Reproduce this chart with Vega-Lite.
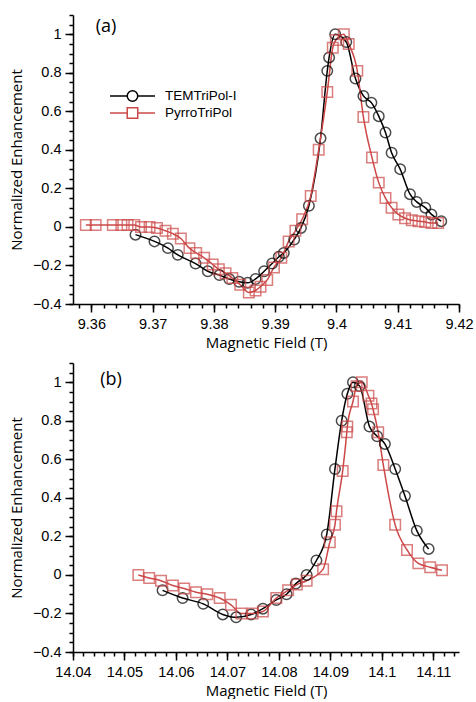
{
  "$schema": "https://vega.github.io/schema/vega-lite/v6.json",
  "padding": {"left": 9, "top": 14, "right": 0, "bottom": 0},
  "background": "white",
  "spacing": 59,
  "bounds": "flush",
  "config": {
    "view": {"stroke": null},
    "axis": {
      "domainColor": "black", "domainWidth": 1.5, "tickColor": "black", "tickWidth": 1.5,
      "grid": false, "labelFont": "Liberation Sans", "labelFontSize": 14.5, "labelColor": "black",
      "labelOverlap": false, "labelFlush": false,
      "titleFont": "Open Sans", "titleFontSize": 15, "titleFontWeight": "normal", "titleColor": "black"
    }
  },
  "datasets": {
    "pts": [
      {"panel": "a", "series": "TEMTriPol-I", "field": 9.3672, "enh": -0.04},
      {"panel": "a", "series": "TEMTriPol-I", "field": 9.3703, "enh": -0.075},
      {"panel": "a", "series": "TEMTriPol-I", "field": 9.3725, "enh": -0.11},
      {"panel": "a", "series": "TEMTriPol-I", "field": 9.3741, "enh": -0.145},
      {"panel": "a", "series": "TEMTriPol-I", "field": 9.377, "enh": -0.19},
      {"panel": "a", "series": "TEMTriPol-I", "field": 9.379, "enh": -0.23},
      {"panel": "a", "series": "TEMTriPol-I", "field": 9.3809, "enh": -0.25},
      {"panel": "a", "series": "TEMTriPol-I", "field": 9.3825, "enh": -0.27},
      {"panel": "a", "series": "TEMTriPol-I", "field": 9.3841, "enh": -0.285},
      {"panel": "a", "series": "TEMTriPol-I", "field": 9.3855, "enh": -0.29},
      {"panel": "a", "series": "TEMTriPol-I", "field": 9.3868, "enh": -0.27},
      {"panel": "a", "series": "TEMTriPol-I", "field": 9.3882, "enh": -0.23},
      {"panel": "a", "series": "TEMTriPol-I", "field": 9.3895, "enh": -0.19},
      {"panel": "a", "series": "TEMTriPol-I", "field": 9.3906, "enh": -0.155},
      {"panel": "a", "series": "TEMTriPol-I", "field": 9.3914, "enh": -0.135},
      {"panel": "a", "series": "TEMTriPol-I", "field": 9.3931, "enh": -0.065},
      {"panel": "a", "series": "TEMTriPol-I", "field": 9.3942, "enh": -0.005},
      {"panel": "a", "series": "TEMTriPol-I", "field": 9.3955, "enh": 0.11},
      {"panel": "a", "series": "TEMTriPol-I", "field": 9.3974, "enh": 0.46},
      {"panel": "a", "series": "TEMTriPol-I", "field": 9.3985, "enh": 0.81},
      {"panel": "a", "series": "TEMTriPol-I", "field": 9.3988, "enh": 0.88},
      {"panel": "a", "series": "TEMTriPol-I", "field": 9.3998, "enh": 1.0},
      {"panel": "a", "series": "TEMTriPol-I", "field": 9.4016, "enh": 0.96},
      {"panel": "a", "series": "TEMTriPol-I", "field": 9.4031, "enh": 0.77},
      {"panel": "a", "series": "TEMTriPol-I", "field": 9.4044, "enh": 0.68},
      {"panel": "a", "series": "TEMTriPol-I", "field": 9.4057, "enh": 0.645},
      {"panel": "a", "series": "TEMTriPol-I", "field": 9.4069, "enh": 0.575},
      {"panel": "a", "series": "TEMTriPol-I", "field": 9.408, "enh": 0.49},
      {"panel": "a", "series": "TEMTriPol-I", "field": 9.409, "enh": 0.385},
      {"panel": "a", "series": "TEMTriPol-I", "field": 9.4104, "enh": 0.3},
      {"panel": "a", "series": "TEMTriPol-I", "field": 9.412, "enh": 0.17},
      {"panel": "a", "series": "TEMTriPol-I", "field": 9.4131, "enh": 0.13},
      {"panel": "a", "series": "TEMTriPol-I", "field": 9.4145, "enh": 0.1},
      {"panel": "a", "series": "TEMTriPol-I", "field": 9.4155, "enh": 0.065},
      {"panel": "a", "series": "TEMTriPol-I", "field": 9.4171, "enh": 0.03},
      {"panel": "a", "series": "PyrroTriPol", "field": 9.3591, "enh": 0.01},
      {"panel": "a", "series": "PyrroTriPol", "field": 9.3607, "enh": 0.01},
      {"panel": "a", "series": "PyrroTriPol", "field": 9.3635, "enh": 0.01},
      {"panel": "a", "series": "PyrroTriPol", "field": 9.3649, "enh": 0.01},
      {"panel": "a", "series": "PyrroTriPol", "field": 9.3659, "enh": 0.01},
      {"panel": "a", "series": "PyrroTriPol", "field": 9.367, "enh": 0.01},
      {"panel": "a", "series": "PyrroTriPol", "field": 9.3681, "enh": 0.0},
      {"panel": "a", "series": "PyrroTriPol", "field": 9.3695, "enh": 0.0},
      {"panel": "a", "series": "PyrroTriPol", "field": 9.3707, "enh": -0.005},
      {"panel": "a", "series": "PyrroTriPol", "field": 9.3721, "enh": -0.02},
      {"panel": "a", "series": "PyrroTriPol", "field": 9.3733, "enh": -0.035},
      {"panel": "a", "series": "PyrroTriPol", "field": 9.3746, "enh": -0.06},
      {"panel": "a", "series": "PyrroTriPol", "field": 9.376, "enh": -0.11},
      {"panel": "a", "series": "PyrroTriPol", "field": 9.3771, "enh": -0.135},
      {"panel": "a", "series": "PyrroTriPol", "field": 9.3784, "enh": -0.16},
      {"panel": "a", "series": "PyrroTriPol", "field": 9.3798, "enh": -0.195},
      {"panel": "a", "series": "PyrroTriPol", "field": 9.3808, "enh": -0.22},
      {"panel": "a", "series": "PyrroTriPol", "field": 9.3819, "enh": -0.24},
      {"panel": "a", "series": "PyrroTriPol", "field": 9.383, "enh": -0.265},
      {"panel": "a", "series": "PyrroTriPol", "field": 9.3843, "enh": -0.3},
      {"panel": "a", "series": "PyrroTriPol", "field": 9.3857, "enh": -0.34},
      {"panel": "a", "series": "PyrroTriPol", "field": 9.3868, "enh": -0.33},
      {"panel": "a", "series": "PyrroTriPol", "field": 9.3876, "enh": -0.31},
      {"panel": "a", "series": "PyrroTriPol", "field": 9.3887, "enh": -0.275},
      {"panel": "a", "series": "PyrroTriPol", "field": 9.3898, "enh": -0.21},
      {"panel": "a", "series": "PyrroTriPol", "field": 9.391, "enh": -0.16},
      {"panel": "a", "series": "PyrroTriPol", "field": 9.3922, "enh": -0.075},
      {"panel": "a", "series": "PyrroTriPol", "field": 9.3933, "enh": -0.02},
      {"panel": "a", "series": "PyrroTriPol", "field": 9.3944, "enh": 0.04},
      {"panel": "a", "series": "PyrroTriPol", "field": 9.3958, "enh": 0.16},
      {"panel": "a", "series": "PyrroTriPol", "field": 9.3971, "enh": 0.4},
      {"panel": "a", "series": "PyrroTriPol", "field": 9.3985, "enh": 0.7},
      {"panel": "a", "series": "PyrroTriPol", "field": 9.3994, "enh": 0.93},
      {"panel": "a", "series": "PyrroTriPol", "field": 9.3999, "enh": 0.97},
      {"panel": "a", "series": "PyrroTriPol", "field": 9.4012, "enh": 1.0},
      {"panel": "a", "series": "PyrroTriPol", "field": 9.402, "enh": 0.95},
      {"panel": "a", "series": "PyrroTriPol", "field": 9.4034, "enh": 0.81},
      {"panel": "a", "series": "PyrroTriPol", "field": 9.4044, "enh": 0.57},
      {"panel": "a", "series": "PyrroTriPol", "field": 9.4058, "enh": 0.36},
      {"panel": "a", "series": "PyrroTriPol", "field": 9.4069, "enh": 0.23},
      {"panel": "a", "series": "PyrroTriPol", "field": 9.408, "enh": 0.15},
      {"panel": "a", "series": "PyrroTriPol", "field": 9.409, "enh": 0.1},
      {"panel": "a", "series": "PyrroTriPol", "field": 9.4101, "enh": 0.065},
      {"panel": "a", "series": "PyrroTriPol", "field": 9.4112, "enh": 0.045},
      {"panel": "a", "series": "PyrroTriPol", "field": 9.4123, "enh": 0.035},
      {"panel": "a", "series": "PyrroTriPol", "field": 9.4134, "enh": 0.03},
      {"panel": "a", "series": "PyrroTriPol", "field": 9.4145, "enh": 0.025},
      {"panel": "a", "series": "PyrroTriPol", "field": 9.4155, "enh": 0.02},
      {"panel": "a", "series": "PyrroTriPol", "field": 9.4166, "enh": 0.02},
      {"panel": "b", "series": "TEMTriPol-I", "field": 14.0574, "enh": -0.08},
      {"panel": "b", "series": "TEMTriPol-I", "field": 14.0613, "enh": -0.12},
      {"panel": "b", "series": "TEMTriPol-I", "field": 14.0653, "enh": -0.15},
      {"panel": "b", "series": "TEMTriPol-I", "field": 14.0691, "enh": -0.205},
      {"panel": "b", "series": "TEMTriPol-I", "field": 14.0717, "enh": -0.22},
      {"panel": "b", "series": "TEMTriPol-I", "field": 14.0746, "enh": -0.205},
      {"panel": "b", "series": "TEMTriPol-I", "field": 14.0769, "enh": -0.175},
      {"panel": "b", "series": "TEMTriPol-I", "field": 14.0795, "enh": -0.13},
      {"panel": "b", "series": "TEMTriPol-I", "field": 14.0815, "enh": -0.1},
      {"panel": "b", "series": "TEMTriPol-I", "field": 14.0833, "enh": -0.045},
      {"panel": "b", "series": "TEMTriPol-I", "field": 14.0854, "enh": 0.0},
      {"panel": "b", "series": "TEMTriPol-I", "field": 14.0873, "enh": 0.075},
      {"panel": "b", "series": "TEMTriPol-I", "field": 14.0893, "enh": 0.21},
      {"panel": "b", "series": "TEMTriPol-I", "field": 14.0909, "enh": 0.55},
      {"panel": "b", "series": "TEMTriPol-I", "field": 14.0922, "enh": 0.8},
      {"panel": "b", "series": "TEMTriPol-I", "field": 14.0933, "enh": 0.94},
      {"panel": "b", "series": "TEMTriPol-I", "field": 14.0944, "enh": 1.0},
      {"panel": "b", "series": "TEMTriPol-I", "field": 14.0957, "enh": 0.98},
      {"panel": "b", "series": "TEMTriPol-I", "field": 14.0976, "enh": 0.77},
      {"panel": "b", "series": "TEMTriPol-I", "field": 14.0991, "enh": 0.72},
      {"panel": "b", "series": "TEMTriPol-I", "field": 14.1006, "enh": 0.68},
      {"panel": "b", "series": "TEMTriPol-I", "field": 14.1026, "enh": 0.55},
      {"panel": "b", "series": "TEMTriPol-I", "field": 14.1045, "enh": 0.41},
      {"panel": "b", "series": "TEMTriPol-I", "field": 14.1068, "enh": 0.23},
      {"panel": "b", "series": "TEMTriPol-I", "field": 14.1091, "enh": 0.135},
      {"panel": "b", "series": "PyrroTriPol", "field": 14.0527, "enh": 0.0},
      {"panel": "b", "series": "PyrroTriPol", "field": 14.0548, "enh": -0.016},
      {"panel": "b", "series": "PyrroTriPol", "field": 14.0571, "enh": -0.03},
      {"panel": "b", "series": "PyrroTriPol", "field": 14.0594, "enh": -0.055},
      {"panel": "b", "series": "PyrroTriPol", "field": 14.0616, "enh": -0.07},
      {"panel": "b", "series": "PyrroTriPol", "field": 14.0639, "enh": -0.09},
      {"panel": "b", "series": "PyrroTriPol", "field": 14.0661, "enh": -0.1},
      {"panel": "b", "series": "PyrroTriPol", "field": 14.0685, "enh": -0.12},
      {"panel": "b", "series": "PyrroTriPol", "field": 14.0707, "enh": -0.155},
      {"panel": "b", "series": "PyrroTriPol", "field": 14.0727, "enh": -0.2},
      {"panel": "b", "series": "PyrroTriPol", "field": 14.0749, "enh": -0.2},
      {"panel": "b", "series": "PyrroTriPol", "field": 14.0769, "enh": -0.19},
      {"panel": "b", "series": "PyrroTriPol", "field": 14.0795, "enh": -0.12},
      {"panel": "b", "series": "PyrroTriPol", "field": 14.0818, "enh": -0.08},
      {"panel": "b", "series": "PyrroTriPol", "field": 14.0835, "enh": -0.05},
      {"panel": "b", "series": "PyrroTriPol", "field": 14.0854, "enh": -0.03},
      {"panel": "b", "series": "PyrroTriPol", "field": 14.0886, "enh": 0.03},
      {"panel": "b", "series": "PyrroTriPol", "field": 14.0899, "enh": 0.17},
      {"panel": "b", "series": "PyrroTriPol", "field": 14.0909, "enh": 0.26},
      {"panel": "b", "series": "PyrroTriPol", "field": 14.0912, "enh": 0.33},
      {"panel": "b", "series": "PyrroTriPol", "field": 14.0924, "enh": 0.54},
      {"panel": "b", "series": "PyrroTriPol", "field": 14.0932, "enh": 0.74},
      {"panel": "b", "series": "PyrroTriPol", "field": 14.0933, "enh": 0.77},
      {"panel": "b", "series": "PyrroTriPol", "field": 14.0944, "enh": 0.9},
      {"panel": "b", "series": "PyrroTriPol", "field": 14.0951, "enh": 0.98},
      {"panel": "b", "series": "PyrroTriPol", "field": 14.0961, "enh": 1.0},
      {"panel": "b", "series": "PyrroTriPol", "field": 14.0974, "enh": 0.93},
      {"panel": "b", "series": "PyrroTriPol", "field": 14.098, "enh": 0.89},
      {"panel": "b", "series": "PyrroTriPol", "field": 14.0983, "enh": 0.86},
      {"panel": "b", "series": "PyrroTriPol", "field": 14.0993, "enh": 0.74},
      {"panel": "b", "series": "PyrroTriPol", "field": 14.1003, "enh": 0.57},
      {"panel": "b", "series": "PyrroTriPol", "field": 14.1026, "enh": 0.26},
      {"panel": "b", "series": "PyrroTriPol", "field": 14.1049, "enh": 0.13},
      {"panel": "b", "series": "PyrroTriPol", "field": 14.1071, "enh": 0.06},
      {"panel": "b", "series": "PyrroTriPol", "field": 14.1094, "enh": 0.04},
      {"panel": "b", "series": "PyrroTriPol", "field": 14.1117, "enh": 0.024}
    ]
  },
  "vconcat": [
    {
      "width": 386, "height": 289,
      "layer": [
        {
          "data": {"name": "pts"},
          "transform": [{"filter": "datum.panel === 'a'"}],
          "mark": {"type": "line", "interpolate": "monotone", "strokeWidth": 1.5},
          "encoding": {
            "x": {"field": "field", "type": "quantitative", "scale": {"domain": [9.357, 9.42], "nice": false, "zero": false},
                  "axis": {"title": "Magnetic Field (T)", "orient": "bottom", "values": [9.36, 9.37, 9.38, 9.39, 9.4, 9.41, 9.42], "format": "~g", "tickSize": 8, "labelPadding": 5, "titlePadding": 5}},
            "y": {"field": "enh", "type": "quantitative", "scale": {"domain": [-0.4, 1.1], "nice": false},
                  "axis": {"title": "Normalized Enhancement", "orient": "left", "values": [-0.4, -0.2, 0, 0.2, 0.4, 0.6, 0.8, 1], "format": "~g", "tickSize": 8, "labelPadding": 4, "titlePadding": 8}},
            "color": {"field": "series", "type": "nominal", "legend": null,
                      "scale": {"domain": ["TEMTriPol-I", "PyrroTriPol"], "range": ["#000000", "#CC4848"]}}
          }
        },
        {
          "data": {"name": "pts"},
          "transform": [{"filter": "datum.panel === 'a'"}],
          "mark": {"type": "point", "filled": false, "size": 110, "strokeWidth": 1.5},
          "encoding": {
            "x": {"field": "field", "type": "quantitative",
                  "axis": {"title": null, "orient": "bottom", "labels": false, "domain": false, "tickSize": 4,
                           "values": [9.358, 9.36, 9.362, 9.364, 9.366, 9.368, 9.37, 9.372, 9.374, 9.376, 9.378, 9.38, 9.382, 9.384, 9.386, 9.388, 9.39, 9.392, 9.394, 9.396, 9.398, 9.4, 9.402, 9.404, 9.406, 9.408, 9.41, 9.412, 9.414, 9.416, 9.418, 9.42]}},
            "y": {"field": "enh", "type": "quantitative",
                  "axis": {"title": null, "orient": "left", "labels": false, "domain": false, "tickSize": 4,
                           "values": [-0.4, -0.35, -0.3, -0.25, -0.2, -0.15, -0.1, -0.05, 0, 0.05, 0.1, 0.15, 0.2, 0.25, 0.3, 0.35, 0.4, 0.45, 0.5, 0.55, 0.6, 0.65, 0.7, 0.75, 0.8, 0.85, 0.9, 0.95, 1, 1.05, 1.1]}},
            "stroke": {"field": "series", "type": "nominal", "legend": null,
                       "scale": {"domain": ["TEMTriPol-I", "PyrroTriPol"], "range": ["#000000", "#CC4848"]}},
            "shape": {"field": "series", "type": "nominal", "legend": null,
                      "scale": {"domain": ["TEMTriPol-I", "PyrroTriPol"], "range": ["circle", "square"]}}
          }
        },
        {
          "data": {"values": [{"label": "(a)"}]},
          "mark": {"type": "text", "align": "left", "baseline": "middle", "font": "Open Sans", "fontSize": 18, "color": "black"},
          "encoding": {
            "x": {"datum": 9.3607, "type": "quantitative", "axis": null},
            "y": {"datum": 1.038, "type": "quantitative", "axis": null},
            "text": {"field": "label"}
          }
        },
        {
          "data": {"values": [{"label": "TEMTriPol-I"}]},
          "mark": {"type": "rule", "color": "#000000", "strokeWidth": 1.5},
          "encoding": {
            "x": {"datum": 9.36304, "type": "quantitative", "axis": null},
            "x2": {"datum": 9.37038},
            "y": {"datum": 0.6796, "type": "quantitative", "axis": null}
          }
        },
        {
          "data": {"values": [{"label": "TEMTriPol-I"}]},
          "mark": {"type": "point", "shape": "circle", "filled": false, "size": 110, "strokeWidth": 1.5, "color": "#000000", "fill": "white", "fillOpacity": 1},
          "encoding": {
            "x": {"datum": 9.36671, "type": "quantitative", "axis": null},
            "y": {"datum": 0.6796, "type": "quantitative", "axis": null}
          }
        },
        {
          "data": {"values": [{"label": "TEMTriPol-I"}]},
          "mark": {"type": "text", "align": "left", "baseline": "middle", "font": "Liberation Sans", "fontSize": 13.5, "color": "black"},
          "encoding": {
            "x": {"datum": 9.37202, "type": "quantitative", "axis": null},
            "y": {"datum": 0.6796, "type": "quantitative", "axis": null},
            "text": {"field": "label"}
          }
        },
        {
          "data": {"values": [{"label": "PyrroTriPol"}]},
          "mark": {"type": "rule", "color": "#CC4848", "strokeWidth": 1.5},
          "encoding": {
            "x": {"datum": 9.36304, "type": "quantitative", "axis": null},
            "x2": {"datum": 9.37038},
            "y": {"datum": 0.5913, "type": "quantitative", "axis": null}
          }
        },
        {
          "data": {"values": [{"label": "PyrroTriPol"}]},
          "mark": {"type": "point", "shape": "square", "filled": false, "size": 110, "strokeWidth": 1.5, "color": "#CC4848", "fill": "white", "fillOpacity": 1},
          "encoding": {
            "x": {"datum": 9.36671, "type": "quantitative", "axis": null},
            "y": {"datum": 0.5913, "type": "quantitative", "axis": null}
          }
        },
        {
          "data": {"values": [{"label": "PyrroTriPol"}]},
          "mark": {"type": "text", "align": "left", "baseline": "middle", "font": "Liberation Sans", "fontSize": 13.5, "color": "black"},
          "encoding": {
            "x": {"datum": 9.37202, "type": "quantitative", "axis": null},
            "y": {"datum": 0.5913, "type": "quantitative", "axis": null},
            "text": {"field": "label"}
          }
        }
      ],
      "resolve": {"axis": {"x": "independent", "y": "independent"}}
    },
    {
      "width": 386, "height": 289,
      "layer": [
        {
          "data": {"name": "pts"},
          "transform": [{"filter": "datum.panel === 'b'"}],
          "mark": {"type": "line", "interpolate": "monotone", "strokeWidth": 1.5},
          "encoding": {
            "x": {"field": "field", "type": "quantitative", "scale": {"domain": [14.04, 14.115], "nice": false, "zero": false},
                  "axis": {"title": "Magnetic Field (T)", "orient": "bottom", "values": [14.04, 14.05, 14.06, 14.07, 14.08, 14.09, 14.1, 14.11], "format": "~g", "tickSize": 8, "labelPadding": 5, "titlePadding": 5}},
            "y": {"field": "enh", "type": "quantitative", "scale": {"domain": [-0.4, 1.1], "nice": false},
                  "axis": {"title": "Normalized Enhancement", "orient": "left", "values": [-0.4, -0.2, 0, 0.2, 0.4, 0.6, 0.8, 1], "format": "~g", "tickSize": 8, "labelPadding": 4, "titlePadding": 8}},
            "color": {"field": "series", "type": "nominal", "legend": null}
          }
        },
        {
          "data": {"name": "pts"},
          "transform": [{"filter": "datum.panel === 'b'"}],
          "mark": {"type": "point", "filled": false, "size": 110, "strokeWidth": 1.5},
          "encoding": {
            "x": {"field": "field", "type": "quantitative",
                  "axis": {"title": null, "orient": "bottom", "labels": false, "domain": false, "tickSize": 4,
                           "values": [14.04, 14.042, 14.044, 14.046, 14.048, 14.05, 14.052, 14.054, 14.056, 14.058, 14.06, 14.062, 14.064, 14.066, 14.068, 14.07, 14.072, 14.074, 14.076, 14.078, 14.08, 14.082, 14.084, 14.086, 14.088, 14.09, 14.092, 14.094, 14.096, 14.098, 14.1, 14.102, 14.104, 14.106, 14.108, 14.11, 14.112, 14.114]}},
            "y": {"field": "enh", "type": "quantitative",
                  "axis": {"title": null, "orient": "left", "labels": false, "domain": false, "tickSize": 4,
                           "values": [-0.4, -0.35, -0.3, -0.25, -0.2, -0.15, -0.1, -0.05, 0, 0.05, 0.1, 0.15, 0.2, 0.25, 0.3, 0.35, 0.4, 0.45, 0.5, 0.55, 0.6, 0.65, 0.7, 0.75, 0.8, 0.85, 0.9, 0.95, 1, 1.05, 1.1]}},
            "stroke": {"field": "series", "type": "nominal", "legend": null},
            "shape": {"field": "series", "type": "nominal", "legend": null}
          }
        },
        {
          "data": {"values": [{"label": "(b)"}]},
          "mark": {"type": "text", "align": "left", "baseline": "middle", "font": "Open Sans", "fontSize": 18, "color": "black"},
          "encoding": {
            "x": {"datum": 14.0453, "type": "quantitative", "axis": null},
            "y": {"datum": 1.01, "type": "quantitative", "axis": null},
            "text": {"field": "label"}
          }
        }
      ],
      "resolve": {"axis": {"x": "independent", "y": "independent"}}
    }
  ],
  "resolve": {"scale": {"color": "shared", "shape": "shared", "stroke": "shared"}}
}
